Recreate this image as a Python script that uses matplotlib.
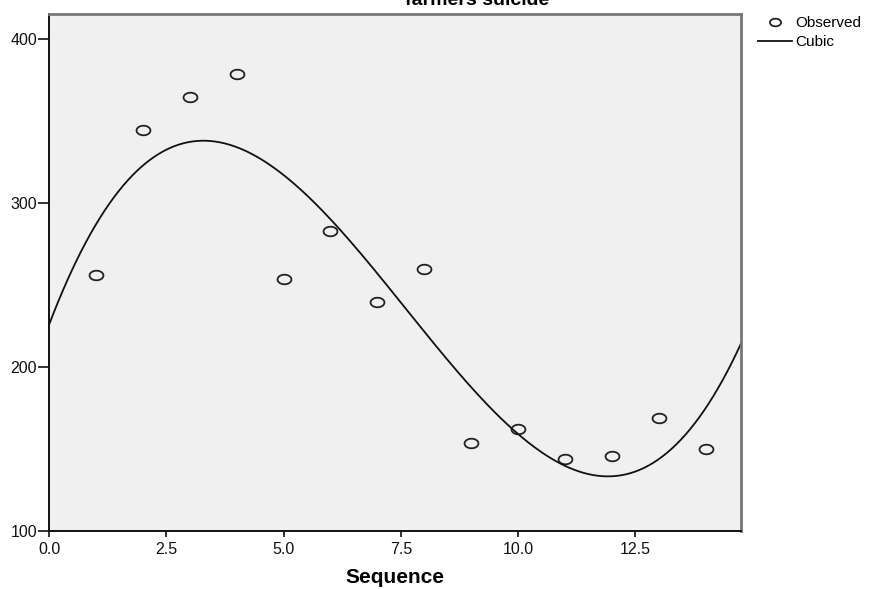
import numpy as np
import matplotlib
matplotlib.use("Agg")
import matplotlib.pyplot as plt
from matplotlib.path import Path

plt.rcParams['font.family'] = ['Liberation Sans', 'DejaVu Sans']

seq = [1, 2, 3, 4, 5, 6, 7, 8, 9, 10, 11, 12, 13, 14]
suicides = [256, 345, 365, 379, 254, 283, 240, 260, 154, 162, 144, 146, 169, 150]

xmin, xmax = 0, 14.75
ymin, ymax = 100, 415.5
xticks = [0, 2.5, 5.0, 7.5, 10.0, 12.5]
yticks = [100, 200, 300, 400]

# cubic curve estimation, like the SPSS output
coef = np.polyfit(seq, suicides, 3)
xs = np.linspace(xmin, xmax, 300)
ys = np.polyval(coef, xs)

# slightly wide ellipse marker (the original image is stretched)
t = np.linspace(0, 2 * np.pi, 60)
ell = Path(np.column_stack([1.45 * np.cos(t), np.sin(t)]))

fig = plt.figure(figsize=(8.72, 5.89), dpi=100)
ax = fig.add_axes([49 / 872, 1 - 531 / 589, (741 - 49) / 872, (531 - 14) / 589])
ax.set_facecolor('#f0f0f0')

obs, = ax.plot(seq, suicides, linestyle='none', marker=ell, markersize=10,
               markerfacecolor='none', markeredgecolor='#222222',
               markeredgewidth=1.3, label='Observed')
cub, = ax.plot(xs, ys, color='#111111', linewidth=1.3, label='Cubic')

ax.set_xlim(xmin, xmax)
ax.set_ylim(ymin, ymax)
ax.set_xticks(xticks)
ax.set_xticklabels([f"{v:.1f}" for v in xticks])
ax.set_yticks(yticks)
ax.tick_params(axis='x', length=4, width=1.2, pad=4, labelsize=11.5, colors='#111111')
ax.tick_params(axis='y', length=8, width=1.2, pad=0.5, labelsize=11.5, colors='#111111')

for s in ['left', 'bottom']:
    ax.spines[s].set_color('#111111')
    ax.spines[s].set_linewidth(1.4)
for s in ['top', 'right']:
    ax.spines[s].set_color('#777777')
    ax.spines[s].set_linewidth(2)

ax.set_xlabel('Sequence', fontsize=15, fontweight='bold', labelpad=8)

# title sits partly above the canvas in the reference
fig.text(477 / 872, 1 - 5 / 589, 'farmers suicide', ha='center', va='baseline',
         fontsize=14, fontweight='bold')

leg = fig.legend(handles=[obs, cub], loc='upper left',
                 bbox_to_anchor=(758 / 872, 1 - 16 / 589), frameon=False,
                 fontsize=11, handlelength=2.2, handletextpad=0.25,
                 labelspacing=0.35, borderpad=0, borderaxespad=0)
leg.legend_handles[0].set_markersize(8)

fig.savefig('out.png', dpi=100)
